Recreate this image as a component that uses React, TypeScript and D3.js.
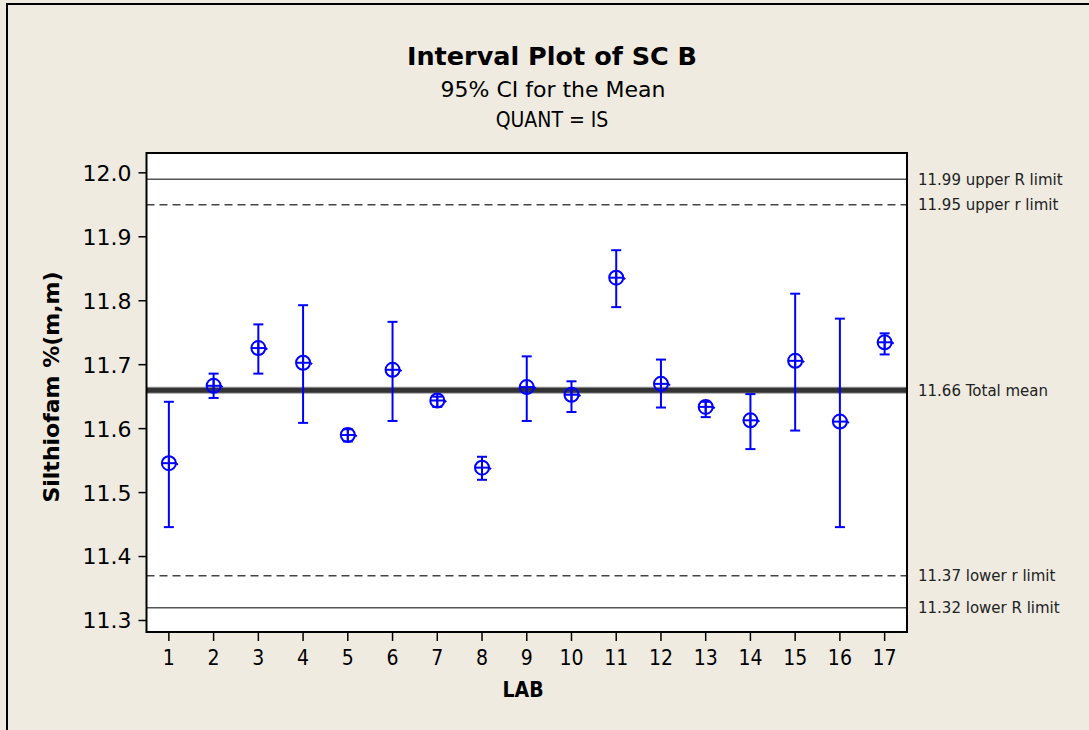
import React from "react";
import * as d3 from "d3";

// Lab means and 95% confidence limits for SC B (QUANT = IS)
const labs = [1, 2, 3, 4, 5, 6, 7, 8, 9, 10, 11, 12, 13, 14, 15, 16, 17];
const means = [11.546, 11.667, 11.726, 11.703, 11.590, 11.692, 11.644, 11.539, 11.665, 11.653, 11.836, 11.670, 11.634, 11.613, 11.706, 11.611, 11.735];
const ciLower = [11.446, 11.648, 11.686, 11.609, 11.580, 11.612, 11.634, 11.520, 11.612, 11.626, 11.790, 11.633, 11.618, 11.568, 11.597, 11.446, 11.716];
const ciUpper = [11.642, 11.686, 11.763, 11.793, 11.599, 11.767, 11.650, 11.556, 11.713, 11.674, 11.879, 11.708, 11.642, 11.654, 11.811, 11.772, 11.749];

const yTicks = [11.3, 11.4, 11.5, 11.6, 11.7, 11.8, 11.9, 12.0];

// Reference lines: value, label, style
const refValues = [11.99, 11.95, 11.66, 11.37, 11.32];
const refLabels = ["upper R limit", "upper r limit", "Total mean", "lower r limit", "lower R limit"];
const refKinds = ["solid", "dashed", "mean", "dashed", "solid"];

const W = 1089;
const H = 730;
const plot = { left: 146.5, right: 907, top: 153, bottom: 632 };
const SANS = "'DejaVu Sans', Tahoma, sans-serif";
const COND = "'DejaVu Sans Condensed', 'DejaVu Sans', Tahoma, sans-serif";
const BLUE = "#0000ff";

export default function App() {
  const x = d3.scaleLinear().domain([0.5, 17.5]).range([plot.left, plot.right]);
  const y = d3.scaleLinear().domain([11.282, 12.031]).range([plot.bottom, plot.top]);
  const r = 7;

  return (
    <svg
      width={W}
      height={H}
      viewBox={`0 0 ${W} ${H}`}
      style={{ position: "absolute", left: 0, top: 0 }}
      fontFamily={SANS}
    >
      <rect x={0} y={0} width={W} height={H} fill="#efebe1" />
      {/* outer frame */}
      <rect x={7} y={4} width={W + 20} height={H + 20} fill="none" stroke="#000" strokeWidth={2} />

      {/* titles */}
      <text x={552} y={65} textAnchor="middle" fontSize={25.5} fontWeight="bold" fill="#000">
        Interval Plot of SC B
      </text>
      <text x={553} y={97} textAnchor="middle" fontSize={22} fill="#000">
        95% CI for the Mean
      </text>
      <text x={552} y={127} textAnchor="middle" fontSize={21} fontFamily={COND} fill="#000">
        QUANT = IS
      </text>

      {/* data region */}
      <rect
        x={plot.left}
        y={plot.top}
        width={plot.right - plot.left}
        height={plot.bottom - plot.top}
        fill="#fff"
      />

      {/* reference lines */}
      {refValues.map((v, i) => {
        const kind = refKinds[i];
        const yy = y(v);
        return (
          <g key={`ref${i}`}>
            {kind === "mean" ? (
              <>
                <line x1={plot.left} x2={plot.right} y1={yy} y2={yy} stroke="#a0a0a0" strokeWidth={7} />
                <line x1={plot.left} x2={plot.right} y1={yy} y2={yy} stroke="#333" strokeWidth={5} />
              </>
            ) : (
              <line
                x1={plot.left}
                x2={plot.right}
                y1={yy}
                y2={yy}
                stroke={kind === "dashed" ? "#444" : "#555"}
                strokeWidth={1.4}
                strokeDasharray={kind === "dashed" ? "8,5" : undefined}
              />
            )}
            <text x={918} y={yy} dy="0.36em" fontSize={15} fill="#222">
              {`${v.toFixed(2)} ${refLabels[i]}`}
            </text>
          </g>
        );
      })}

      {/* interval markers */}
      {labs.map((lab, i) => {
        const cx = x(lab);
        const cy = y(means[i]);
        const yl = y(ciLower[i]);
        const yu = y(ciUpper[i]);
        return (
          <g key={`lab${lab}`} stroke={BLUE} strokeWidth={2} fill="none">
            <line x1={cx} x2={cx} y1={yu} y2={yl} />
            <line x1={cx - 5} x2={cx + 5} y1={yu} y2={yu} />
            <line x1={cx - 5} x2={cx + 5} y1={yl} y2={yl} />
            <circle cx={cx} cy={cy} r={r} />
            <line x1={cx - r} x2={cx + r} y1={cy} y2={cy} />
            <line x1={cx} x2={cx} y1={cy - r} y2={cy + r} />
            <line x1={cx + r - 1} x2={cx + r + 2} y1={cy - 1} y2={cy + 1.5} />
          </g>
        );
      })}

      {/* frame */}
      <rect
        x={plot.left}
        y={plot.top}
        width={plot.right - plot.left}
        height={plot.bottom - plot.top}
        fill="none"
        stroke="#000"
        strokeWidth={2}
      />

      {/* y axis */}
      {yTicks.map((t) => (
        <g key={`yt${t}`}>
          <line x1={plot.left - 8} x2={plot.left} y1={y(t)} y2={y(t)} stroke="#000" strokeWidth={1.5} />
          <text x={plot.left - 15} y={y(t)} dy="0.36em" textAnchor="end" fontSize={22} fill="#000">
            {t.toFixed(1)}
          </text>
        </g>
      ))}
      <text
        transform={`translate(51,387) rotate(-90)`}
        textAnchor="middle"
        dy="0.36em"
        fontSize={22}
        fontWeight="bold"
        fill="#000"
      >
        Silthiofam %(m,m)
      </text>

      {/* x axis */}
      {labs.map((lab) => (
        <g key={`xt${lab}`}>
          <line x1={x(lab)} x2={x(lab)} y1={plot.bottom} y2={plot.bottom + 9} stroke="#000" strokeWidth={1.5} />
          <text x={x(lab)} y={665} textAnchor="middle" fontSize={21} fontFamily={COND} fill="#000">
            {lab}
          </text>
        </g>
      ))}
      <text x={523} y={697} textAnchor="middle" fontSize={21} fontFamily={COND} fontWeight="bold" fill="#000">
        LAB
      </text>
    </svg>
  );
}
